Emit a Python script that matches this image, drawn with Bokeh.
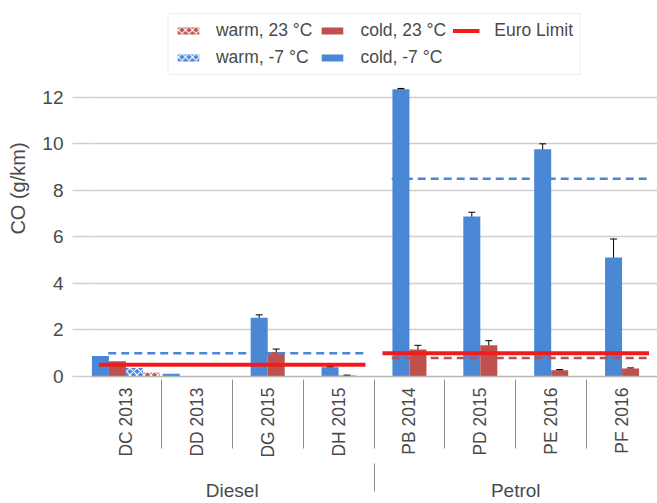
import math
from bokeh.plotting import figure
from bokeh.models import (ColumnDataSource, FactorRange, CategoricalAxis, Legend, LegendItem,
                          Whisker, TeeHead, FixedTicker, Range1d)
from bokeh.embed import file_html
from bokeh.resources import INLINE

# ---------------- data ----------------
groups = ["Diesel", "Diesel", "Diesel", "Diesel", "Petrol", "Petrol", "Petrol", "Petrol"]
cars = ["DC 2013", "DD 2013", "DG 2015", "DH 2015", "PB 2014", "PD 2015", "PE 2016", "PF 2016"]
cold_m7 = [0.88, 0.12, 2.53, 0.40, 12.35, 6.88, 9.77, 5.11]
cold_m7_err = [0.0, 0.0, 0.12, 0.03, 0.03, 0.18, 0.23, 0.80]
cold_23 = [0.66, 0.0, 1.05, 0.04, 1.16, 1.34, 0.27, 0.34]
cold_23_err = [0.0, 0.0, 0.13, 0.02, 0.18, 0.20, 0.03, 0.03]
warm_m7 = [0.37, 0.0, None, None, None, None, None, None]
warm_23 = [0.16, 0.0, None, None, None, None, None, None]

limit_groups = ["Diesel", "Petrol"]
euro_limit = [0.5, 1.0]
ref_cold_m7 = [1.0, 8.5]
ref_cold_23 = [None, 0.8]

y_ticks = [0, 2, 4, 6, 8, 10, 12]

# ---------------- style ----------------
BLUE = "#4a88d6"
RED = "#c0504d"
LIMIT = "#ee1c1c"
FONT = "Liberation Sans"
TXT = "#4a4a4a"
GRID = "#cfcfcf"
SEP = "#8c8c8c"
SLOT = 0.24

main_range = FactorRange(*[(g, c) for g, c in zip(groups, cars)],
                         factor_padding=0, group_padding=0)
car_range = FactorRange(*[(c, " ") for c in cars], factor_padding=0, group_padding=0)

p = figure(width=657, height=503, x_range=main_range, y_range=Range1d(0, 16.16),
           output_backend="svg", toolbar_location=None, x_axis_location=None,
           title=None, min_border_left=90, min_border_right=0, min_border_top=0,
           min_border_bottom=126)
p.outline_line_color = None
p.background_fill_color = "white"
p.border_fill_color = "white"
p.xgrid.visible = False

n_bars = [4 if w is not None else 2 for w in warm_m7]

series = [
    ("cold, -7 °C", cold_m7, cold_m7_err, BLUE, False),
    ("cold, 23 °C", cold_23, cold_23_err, RED, False),
    ("warm, -7 °C", warm_m7, None, BLUE, True),
    ("warm, 23 °C", warm_23, None, RED, True),
]

renderers = {}
for k, (name, vals, errs, color, hatched) in enumerate(series):
    xs, tops, eb_x, eb_lo, eb_hi = [], [], [], [], []
    for i, v in enumerate(vals):
        if v is None:
            continue
        off = (k - (n_bars[i] - 1) / 2) * SLOT
        x = (groups[i], cars[i], off)
        xs.append(x)
        tops.append(v)
        if errs is not None and errs[i] > 0:
            eb_x.append(x)
            eb_lo.append(v - errs[i])
            eb_hi.append(v + errs[i])
    src = ColumnDataSource(dict(x=xs, top=tops))
    kw = dict(fill_color=color, line_color=None)
    if hatched:
        kw.update(hatch_pattern="diagonal_cross", hatch_color="white",
                  hatch_scale=7, hatch_weight=1.2)
    r = p.vbar(x="x", top="top", width=SLOT, bottom=0, source=src, **kw)
    renderers[name] = r
    if eb_x:
        esrc = ColumnDataSource(dict(base=eb_x, lower=eb_lo, upper=eb_hi))
        w = Whisker(base="base", lower="lower", upper="upper", source=esrc,
                    line_color="black", line_width=1,
                    upper_head=TeeHead(size=7, line_color="black", line_width=1),
                    lower_head=TeeHead(size=7, line_color="black", line_width=1))
        p.add_layout(w)

# horizontal reference lines per group
def group_span(g, a, b):
    members = [c for gg, c in zip(groups, cars) if gg == g]
    return (g, members[0], a), (g, members[-1], b)

def seg_source(values, a, b):
    x0, x1, y = [], [], []
    for g, v in zip(limit_groups, values):
        if v is None:
            continue
        s, e = group_span(g, a, b)
        x0.append(s)
        x1.append(e)
        y.append(v)
    return ColumnDataSource(dict(x0=x0, x1=x1, y=y))

p.segment(x0="x0", x1="x1", y0="y", y1="y", source=seg_source(ref_cold_m7, -0.25, 0.4),
          line_color=BLUE, line_width=2.5, line_dash="8 5")
p.segment(x0="x0", x1="x1", y0="y", y1="y", source=seg_source(ref_cold_23, -0.25, 0.4),
          line_color=RED, line_width=2.5, line_dash="8 5")
euro = p.segment(x0="x0", x1="x1", y0="y", y1="y", source=seg_source(euro_limit, -0.38, 0.38),
                 line_color=LIMIT, line_width=4)

# ---------------- axes ----------------
yax = p.yaxis[0]
yax.ticker = FixedTicker(ticks=y_ticks)
yax.axis_label = "CO (g/km)"
yax.axis_label_text_font = FONT
yax.axis_label_text_font_size = "20px"
yax.axis_label_text_font_style = "normal"
yax.axis_label_text_color = TXT
yax.axis_label_standoff = 10
yax.major_label_text_font = FONT
yax.major_label_text_font_size = "19px"
yax.major_label_text_color = TXT
yax.major_label_standoff = 9
yax.major_tick_out = 18
yax.major_tick_in = 0
yax.major_tick_line_color = GRID
yax.major_tick_line_width = 1.5
yax.minor_tick_line_color = None
yax.axis_line_color = None
p.ygrid.ticker = FixedTicker(ticks=y_ticks)
p.ygrid.grid_line_color = GRID
p.ygrid.grid_line_width = 1.5

p.extra_x_ranges = {"cars": car_range}
car_axis = CategoricalAxis(x_range_name="cars")
car_axis.major_label_text_font_size = "1px"
car_axis.major_label_text_alpha = 0
car_axis.major_label_standoff = 5
car_axis.major_tick_line_color = None
car_axis.axis_line_color = "#b5b5b5"
car_axis.axis_line_width = 1.5
car_axis.group_label_orientation = math.pi / 2
car_axis.group_text_font = FONT
car_axis.group_text_font_size = "17.5px"
car_axis.group_text_font_style = "normal"
car_axis.group_text_color = TXT
car_axis.separator_line_color = SEP
car_axis.separator_line_width = 1
p.add_layout(car_axis, "below")

grp_axis = CategoricalAxis()
grp_axis.major_label_text_font_size = "1px"
grp_axis.major_label_text_alpha = 0
grp_axis.major_label_standoff = 13
grp_axis.major_tick_line_color = None
grp_axis.axis_line_color = None
grp_axis.group_text_font = FONT
grp_axis.group_text_font_size = "19px"
grp_axis.group_text_font_style = "normal"
grp_axis.group_text_color = TXT
grp_axis.separator_line_color = SEP
grp_axis.separator_line_width = 1
p.add_layout(grp_axis, "below")

# ---------------- legend ----------------
legend = Legend(items=[
    LegendItem(label="warm, 23 °C", renderers=[renderers["warm, 23 °C"]]),
    LegendItem(label="cold, 23 °C", renderers=[renderers["cold, 23 °C"]]),
    LegendItem(label="Euro Limit", renderers=[euro]),
    LegendItem(label="warm, -7 °C", renderers=[renderers["warm, -7 °C"]]),
    LegendItem(label="cold, -7 °C", renderers=[renderers["cold, -7 °C"]]),
], location="top_center", orientation="horizontal", ncols=3)
legend.label_text_font = FONT
legend.label_text_font_size = "17.5px"
legend.label_text_color = TXT
legend.glyph_width = 27
legend.glyph_height = 9
legend.label_standoff = 15
legend.spacing = 6
legend.padding = 6
legend.margin = 13
legend.border_line_color = "#dddddd"
legend.border_line_width = 1
legend.background_fill_alpha = 1
p.add_layout(legend)

open("out.html", "w").write(file_html(p, INLINE))
